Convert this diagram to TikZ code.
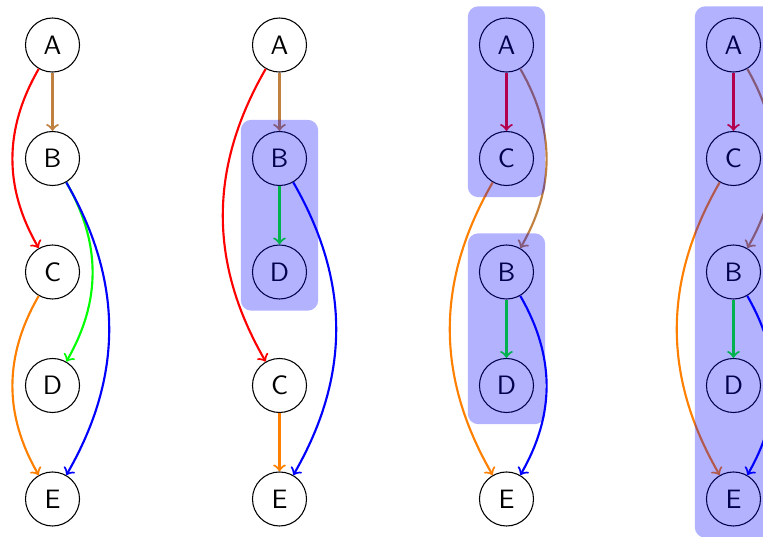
\documentclass[tikz,border=0pt]{standalone}
\usetikzlibrary{fit}
\begin{document}
\begin{tikzpicture}[
  vertex/.style={draw, circle, minimum size=0.714cm, inner sep=0pt, font=\sffamily},
  edge/.style={->, thick},
  group/.style={fill=blue, fill opacity=0.3, rounded corners, inner sep=4.2pt}]
\useasboundingbox (-0.694,0.595) rectangle (9.39,-6.502);
% first ordering
\node [vertex] (a1) at (0,0) {A};
\node [vertex] (b1) at (0,-1.5) {B};
\node [vertex] (c1) at (0,-3) {C};
\node [vertex] (d1) at (0,-4.5) {D};
\node [vertex] (e1) at (0,-6) {E};
\draw [edge, brown] (a1) -- (b1);
\draw [edge, red] (a1) to [bend right] (c1);
\draw [edge, green] (b1) to [bend left] (d1);
\draw [edge, blue] (b1) to [bend left] (e1);
\draw [edge, orange] (c1) to [bend right] (e1);
% B and D grouped
\node [vertex] (a2) at (3,0) {A};
\node [vertex] (b2) at (3,-1.5) {B};
\node [vertex] (d2) at (3,-3) {D};
\node [vertex] (c2) at (3,-4.5) {C};
\node [vertex] (e2) at (3,-6) {E};
\draw [edge, brown] (a2) -- (b2);
\draw [edge, green] (b2) -- (d2);
\draw [edge, red] (a2) to [bend right] (c2);
\draw [edge, blue] (b2) to [bend left] (e2);
\draw [edge, orange] (c2) -- (e2);
\node [group, fit=(b2)(d2)] (g2) {};
% A,C and B,D grouped
\node [vertex] (a3) at (6,0) {A};
\node [vertex] (c3) at (6,-1.5) {C};
\node [vertex] (b3) at (6,-3) {B};
\node [vertex] (d3) at (6,-4.5) {D};
\node [vertex] (e3) at (6,-6) {E};
\draw [edge, red] (a3) -- (c3);
\draw [edge, brown] (a3) to [bend left] (b3);
\draw [edge, green] (b3) -- (d3);
\draw [edge, blue] (b3) to [bend left] (e3);
\draw [edge, orange] (c3) to [bend right] (e3);
\node [group, fit=(a3)(c3)] (g3a) {};
\node [group, fit=(b3)(d3)] (g3b) {};
% all grouped
\node [vertex] (a4) at (9,0) {A};
\node [vertex] (c4) at (9,-1.5) {C};
\node [vertex] (b4) at (9,-3) {B};
\node [vertex] (d4) at (9,-4.5) {D};
\node [vertex] (e4) at (9,-6) {E};
\draw [edge, red] (a4) -- (c4);
\draw [edge, brown] (a4) to [bend left] (b4);
\draw [edge, green] (b4) -- (d4);
\draw [edge, blue] (b4) to [bend left] (e4);
\draw [edge, orange] (c4) to [bend right] (e4);
\node [group, fit=(a4)(e4)] (g4) {};
\end{tikzpicture}
\end{document}
